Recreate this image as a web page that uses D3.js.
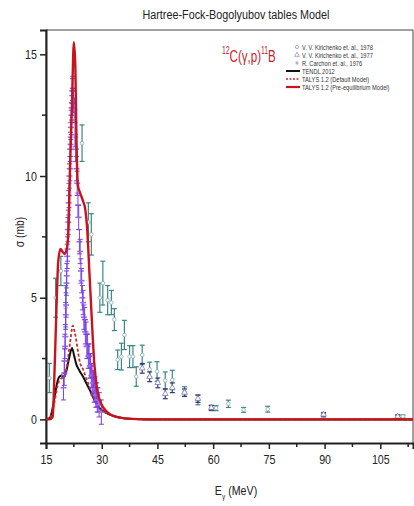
<!DOCTYPE html>
<html><head><meta charset="utf-8">
<script src="https://cdn.jsdelivr.net/npm/d3@7"></script>
<style>body{margin:0;background:#fff}svg{display:block}</style>
</head><body>
<script>
// ---------- DATA ----------
const xTicks = [15, 30, 45, 60, 75, 90, 105];
const yTicks = [0, 5, 10, 15];
// TALYS 1.2 (Pre-equilibrium Model)
const talysPreE = [15,16,16.8,17.3,17.8,18.3,18.9,19.4,20.0,20.6,21.1,21.5,22.0,22.5,22.9,23.2,23.6,24.2,24.9,25.6,26.1,26.7,27.3,28.0,28.8,30,31.5,33,35,38,42,114];
const talysPreS = [0,0,0.1,2.0,4.5,6.5,7.0,6.9,6.8,7.0,8.0,10.5,13.0,15.5,14.5,11.5,9.6,9.3,9.0,8.6,7.8,6.0,4.2,2.3,1.2,0.6,0.3,0.15,0.07,0.02,0,0];
// TENDL 2012
const tendlE = [15,16,16.7,17.4,18.0,18.6,19.3,19.9,20.5,21.2,22.0,22.6,23.2,24.0,25.0,25.8,26.8,27.7,28.5,29.5,31.2,33,35.5,40,45,114];
const tendlS = [0,0.05,0.4,1.0,1.5,1.75,1.8,1.75,2.0,2.5,2.93,2.6,2.25,2.0,1.75,1.5,1.2,0.9,0.68,0.45,0.27,0.15,0.06,0.01,0,0];
// TALYS 1.2 (Default Model)
const talysDefE = [15,16,16.7,17.4,18.0,18.6,19.3,19.9,20.5,21.0,21.6,22.2,22.7,23.1,23.6,24.1,25.0,25.8,26.7,27.7,28.5,29.5,31.2,33,35.5,40,45,114];
const talysDefS = [0,0.03,0.3,0.8,1.3,1.6,1.7,1.75,2.1,2.6,3.3,3.85,3.6,3.3,2.8,2.35,2.05,1.7,1.35,0.95,0.7,0.45,0.27,0.15,0.06,0.01,0,0];
// V. V. Kirichenko et. al., 1978 (energy, sigma, error)
const kir78E = [15.9,17.6,19.0,20.3,24.7,26.4,27.2,29.5,30.3,31.6,32.6,33.4,34.3,35.3,36.1,37.5,38.4,39.3,40.9,42.9,44.9,47.1,49.0,52.3,55.9,59.5,60.8,64.1,68.2,74.7,89.7,109.7,111.1];
const kir78S = [1.7,5.0,6.1,4.6,11.35,8.1,7.6,5.0,5.6,4.9,4.8,4.1,2.45,2.58,3.47,2.58,2.58,1.76,2.65,2.05,1.97,1.6,1.62,1.14,0.8,0.46,0.46,0.64,0.39,0.42,0.18,0.12,0.12];
const kir78Err = [0.6,0.8,0.6,0.9,0.75,0.8,0.85,0.6,0.9,0.6,0.5,0.45,0.4,0.55,0.6,0.45,0.45,0.4,0.4,0.3,0.4,0.35,0.4,0.2,0.2,0.1,0.1,0.15,0.1,0.12,0.08,0.06,0.06];
// V. V. Kirichenko et. al., 1977
const kir77E = [40.9,42.9,45.1,47.1,49.0,52.3,55.9,59.5,89.7,109.7];
const kir77S = [2.1,1.75,1.5,1.05,1.3,1.1,0.85,0.48,0.2,0.12];
const kir77Err = [0.2,0.2,0.2,0.2,0.2,0.15,0.15,0.1,0.08,0.06];
// R. Carchon et. al., 1976
const carE = [19.7,19.9,20.0,20.1,20.2,20.3,20.4,20.5,20.6,20.7,20.8,20.9,21.0,21.1,21.2,21.3,21.4,21.5,21.6,21.7,21.8,21.9,22.0,22.1,22.2,22.4,22.6,22.8,23.0,23.2,23.4,23.6,23.8,24.0,24.2,24.4,24.6,24.8,25.0,25.2,25.4,25.6,25.8,26.0,26.2,26.4,26.6,26.8,27.0,27.2,27.4,27.6,27.8,28.0,28.2,28.4,28.6,28.8,29.0,29.3,29.9];
const carS = [1.3,1.9,2.4,3.0,3.4,4.3,4.7,5.6,5.9,6.7,7.0,7.8,8.1,8.9,9.2,10.0,10.3,11.1,11.3,12.0,12.2,12.8,13.0,13.5,13.6,13.1,12.7,11.7,11.1,10.3,9.7,8.8,8.3,7.3,6.9,6.1,5.7,5.0,4.8,4.2,4.1,3.6,3.5,3.0,3.0,2.6,2.6,2.2,2.2,1.8,1.8,1.5,1.5,1.2,1.25,1.0,1.0,0.8,0.8,0.6,0.3];
const carErr = 0.5;

// ---------- CHART ----------
const W = 414, H = 506;
const L = 46, R = 413, T = 30, B = 443;
const svg = d3.select("body").append("svg").attr("width", W).attr("height", H);
const x = d3.scaleLinear().domain([15, 113.8]).range([L, R]);
const y = d3.scaleLinear().domain([-0.97, 16.0]).range([B, T]);
const font = "'Liberation Sans',Arial,sans-serif";

// title
svg.append("text").attr("class", "fixlen").attr("data-len", 187).attr("x", 236).attr("y", 19).attr("text-anchor", "middle")
  .attr("font-family", font).attr("font-size", 12.5).attr("fill", "#222")
  .text("Hartree-Fock-Bogolyubov tables Model");

// frame
svg.append("path").attr("d", `M${L},${B}V${T}H${R}V${B}`).attr("fill", "none").attr("stroke", "#444").attr("stroke-width", 1);

// axes
const xAxis = d3.axisBottom(x).tickValues(xTicks).tickSize(6).tickPadding(6).tickFormat(d3.format("d"));
const gx = svg.append("g").attr("transform", `translate(0,${B})`).call(xAxis);
const xMinor = xTicks.map(t => t + 7.5).filter(t => t < 113.8);
gx.selectAll(".minor").data(xMinor).enter().append("line").attr("class", "minor")
  .attr("x1", d => x(d)).attr("x2", d => x(d)).attr("y1", 0).attr("y2", 4).attr("stroke", "#222").attr("stroke-width", 1.5);
const yAxis = d3.axisLeft(y).tickValues(yTicks).tickSize(6).tickPadding(3).tickFormat(d3.format("d"));
const gy = svg.append("g").attr("transform", `translate(${L},0)`).call(yAxis);
const yMinor = [2.5, 7.5, 12.5];
gy.selectAll(".minor").data(yMinor).enter().append("line").attr("class", "minor")
  .attr("y1", d => y(d)).attr("y2", d => y(d)).attr("x1", 0).attr("x2", -4).attr("stroke", "#222").attr("stroke-width", 1.5);
[gx, gy].forEach(g => {
  g.select(".domain").attr("stroke", "#222").attr("stroke-width", 2);
  g.selectAll(".tick line").attr("stroke", "#222").attr("stroke-width", 1.5);
  g.selectAll(".tick text").attr("font-family", font).attr("font-size", 13).attr("fill", "#222").classed("cond", true);
});

// axis labels
svg.append("text").attr("class", "cond").attr("transform", "translate(24,232) rotate(-90)").attr("text-anchor", "middle")
  .attr("font-family", font).attr("font-size", 12.5).attr("fill", "#222").text("σ (mb)");
const xlg = svg.append("g").attr("transform", "translate(236,495) scale(0.82,1)");
const xl = xlg.append("text").attr("x", 0).attr("y", 0).attr("text-anchor", "middle")
  .attr("font-family", font).attr("font-size", 13).attr("fill", "#222");
xl.append("tspan").text("E");
xl.append("tspan").attr("font-size", 8).attr("dy", 4).text("γ");
xl.append("tspan").attr("dy", -4).text(" (MeV)");

const clip = svg.append("clipPath").attr("id", "clip").append("rect").attr("x", L).attr("y", T).attr("width", R - L).attr("height", B - T);
const plot = svg.append("g").attr("clip-path", "url(#clip)");

// Kirichenko 1978 error bars + circles
const teal = "#3a8585";
const k78 = kir78E.map((e, i) => ({e, s: kir78S[i], err: kir78Err[i]}));
const k78g = plot.append("g");
k78.forEach(d => {
  const g = k78g.append("g").attr("stroke", teal).attr("stroke-width", 1.2);
  g.append("line").attr("x1", x(d.e)).attr("x2", x(d.e)).attr("y1", y(d.s - d.err)).attr("y2", y(d.s + d.err));
  g.append("line").attr("x1", x(d.e) - 2.5).attr("x2", x(d.e) + 2.5).attr("y1", y(d.s - d.err)).attr("y2", y(d.s - d.err));
  g.append("line").attr("x1", x(d.e) - 2.5).attr("x2", x(d.e) + 2.5).attr("y1", y(d.s + d.err)).attr("y2", y(d.s + d.err));
  g.append("circle").attr("cx", x(d.e)).attr("cy", y(d.s)).attr("r", 1.8).attr("fill", "#fff").attr("stroke", "#8aa").attr("stroke-width", 0.8);
});
// Kirichenko 1977 triangles
const navy = "#35357a";
const tri = d3.symbol().type(d3.symbolTriangle).size(14);
kir77E.forEach((e, i) => {
  const s = kir77S[i], err = kir77Err[i];
  const g = k78g.append("g").attr("stroke", navy).attr("stroke-width", 1.2);
  g.append("line").attr("x1", x(e)).attr("x2", x(e)).attr("y1", y(s - err)).attr("y2", y(s + err));
  g.append("line").attr("x1", x(e) - 2.5).attr("x2", x(e) + 2.5).attr("y1", y(s - err)).attr("y2", y(s - err));
  g.append("line").attr("x1", x(e) - 2.5).attr("x2", x(e) + 2.5).attr("y1", y(s + err)).attr("y2", y(s + err));
  g.append("path").attr("d", tri).attr("transform", `translate(${x(e)},${y(s)})`).attr("fill", "#fff").attr("stroke", "#7a7aa8").attr("stroke-width", 0.8);
});

// curves
const line = d3.line().x(d => x(d[0])).y(d => y(d[1])).curve(d3.curveMonotoneX);
plot.append("path").datum(tendlE.map((e, i) => [e, tendlS[i]])).attr("d", line)
  .attr("fill", "none").attr("stroke", "#111").attr("stroke-width", 2);
plot.append("path").datum(talysDefE.map((e, i) => [e, talysDefS[i]])).attr("d", line)
  .attr("fill", "none").attr("stroke", "#c03030").attr("stroke-width", 1.8).attr("stroke-dasharray", "3,2");

// Carchon
const purple = "#7a3fe0";
const car = carE.map((e, i) => ({e, s: carS[i]}));
car.forEach(d => {
  const g = plot.append("g").attr("stroke", purple).attr("stroke-width", 1);
  g.append("line").attr("x1", x(d.e)).attr("x2", x(d.e)).attr("y1", y(d.s - carErr)).attr("y2", y(d.s + carErr));
  g.append("line").attr("x1", x(d.e) - 2.5).attr("x2", x(d.e) + 2.5).attr("y1", y(d.s - carErr)).attr("y2", y(d.s - carErr));
  g.append("line").attr("x1", x(d.e) - 2.5).attr("x2", x(d.e) + 2.5).attr("y1", y(d.s + carErr)).attr("y2", y(d.s + carErr));
  g.append("line").attr("x1", x(d.e) - 3).attr("x2", x(d.e) + 3).attr("y1", y(d.s)).attr("y2", y(d.s)).attr("stroke", "#9a6af0").attr("stroke-width", 1.6);
});

plot.append("path").datum(talysPreE.map((e, i) => [e, talysPreS[i]])).attr("d", line)
  .attr("fill", "none").attr("stroke", "#c8151b").attr("stroke-width", 2.4);

// reaction label (narrow, as in the original)
const rlg = svg.append("g").attr("transform", "translate(222,62) scale(0.68,1)");
const rl = rlg.append("text").attr("x", 0).attr("y", 0).attr("font-family", font).attr("font-size", 17).attr("fill", "#c8202a");
rl.append("tspan").attr("font-size", 10).attr("dy", -8).text("12");
rl.append("tspan").attr("dy", 8).text("C(γ,p)");
rl.append("tspan").attr("font-size", 10).attr("dy", -8).text("11");
rl.append("tspan").attr("dy", 8).text("B");

// legend
const legItems = ["V. V. Kirichenko et. al., 1978", "V. V. Kirichenko et. al., 1977", "R. Carchon et. al., 1976", "TENDL 2012", "TALYS 1.2 (Default Model)", "TALYS 1.2 (Pre-equilibrium Model)"];
const legY = [47, 55, 63, 71, 79, 87];
const lg = svg.append("g");
legItems.forEach((t, i) => {
  lg.append("g").attr("transform", `translate(302,${legY[i] + 2.6}) scale(0.76,1)`)
    .append("text").attr("x", 0).attr("y", 0).attr("font-family", font).attr("font-size", 7.5).attr("fill", "#333").text(t);
});
lg.append("circle").attr("cx", 297).attr("cy", legY[0]).attr("r", 1.6).attr("fill", "none").attr("stroke", "#999").attr("stroke-width", 0.8);
lg.append("path").attr("d", d3.symbol().type(d3.symbolTriangle).size(10)).attr("transform", `translate(297,${legY[1]})`).attr("fill", "none").attr("stroke", "#999").attr("stroke-width", 0.8);
lg.append("path").attr("d", d3.symbol().type(d3.symbolAsterisk || d3.symbolCross).size(10)).attr("transform", `translate(297,${legY[2]})`).attr("fill", "#b9a0e8").attr("stroke", "#9a7ad8").attr("stroke-width", 0.6);
lg.append("line").attr("x1", 286).attr("x2", 300).attr("y1", legY[3]).attr("y2", legY[3]).attr("stroke", "#111").attr("stroke-width", 2);
lg.append("line").attr("x1", 286).attr("x2", 300).attr("y1", legY[4]).attr("y2", legY[4]).attr("stroke", "#c03030").attr("stroke-width", 1.6).attr("stroke-dasharray", "2,1.5");
lg.append("line").attr("x1", 286).attr("x2", 300).attr("y1", legY[5]).attr("y2", legY[5]).attr("stroke", "#c8151b").attr("stroke-width", 2.2);

// condense texts to mimic the narrow typeface of the original
svg.selectAll("text.cond").each(function () {
  const len = this.getComputedTextLength();
  d3.select(this).attr("textLength", (len * 0.82).toFixed(1)).attr("lengthAdjust", "spacingAndGlyphs");
});
svg.selectAll("text.fixlen").each(function () {
  d3.select(this).attr("textLength", this.getAttribute("data-len")).attr("lengthAdjust", "spacingAndGlyphs");
});
</script>
</body></html>
